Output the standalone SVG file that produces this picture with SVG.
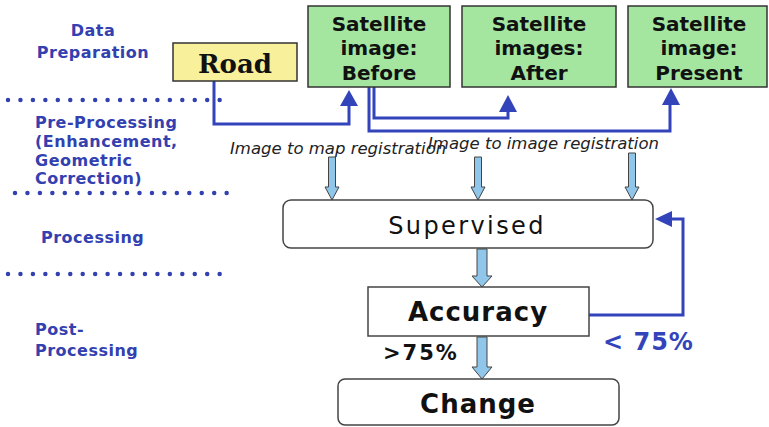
<svg xmlns="http://www.w3.org/2000/svg" width="769" height="427" viewBox="0 0 769 427">
<style>
.lbl{font-family:"DejaVu Sans","Liberation Sans",sans-serif;font-weight:bold;font-size:16px;letter-spacing:0.5px;fill:#3340b0}
.sat{font-family:"DejaVu Sans","Liberation Sans",sans-serif;font-weight:bold;font-size:20px;fill:#111;text-anchor:middle}
.dots{stroke:#3340b0;stroke-width:4.5;stroke-linecap:round;stroke-dasharray:0 12.45;fill:none}
.blue{stroke:#3344bb;stroke-width:3;fill:none}
.bhead{fill:#3344bb}
.lb{fill:#8fc6ea;stroke:#444;stroke-width:1}
.ital{font-family:"DejaVu Sans","Liberation Sans",sans-serif;font-style:italic;font-size:16.5px;fill:#222}
.box{fill:#fff;stroke:#444;stroke-width:1.5}
.big{font-family:"DejaVu Sans","Liberation Sans",sans-serif;font-weight:bold;font-size:26px;fill:#111;text-anchor:middle}
</style>
<g id="stage-labels">
<text class="lbl" x="93" y="36" text-anchor="middle">Data</text>
<text class="lbl" x="93" y="58" text-anchor="middle">Preparation</text>
<text class="lbl" x="35" y="128">Pre-Processing</text>
<text class="lbl" x="35" y="147">(Enhancement,</text>
<text class="lbl" x="35" y="166">Geometric</text>
<text class="lbl" x="35" y="184">Correction)</text>
<text class="lbl" x="41" y="243">Processing</text>
<text class="lbl" x="35" y="335">Post-</text>
<text class="lbl" x="35" y="356">Processing</text>
<line class="dots" x1="8" y1="100" x2="220" y2="100"/>
<line class="dots" x1="15" y1="193" x2="228" y2="193"/>
<line class="dots" x1="8" y1="274" x2="220" y2="274"/>
</g>
<g id="connectors">
<polyline class="blue" points="214,81 214,124 349,124 349,104"/>
<polygon class="bhead" points="349,90 358,106 340,106"/>
<polyline class="blue" points="374,87 374,118 508,118 508,110"/>
<polygon class="bhead" points="508,95 517,112 499,112"/>
<polyline class="blue" points="369,87 369,131 670,131 670,103"/>
<polygon class="bhead" points="671,88 680,105 662,105"/>
<polyline class="blue" points="589,315 683,315 683,219 670,219"/>
<polygon class="bhead" points="655,219 672,211 672,227"/>
<polygon class="lb" points="328.5,157 335.5,157 335.5,187 339,187 332,200 325,187 328.5,187"/>
<polygon class="lb" points="474.5,157 481.5,157 481.5,187 485,187 478,200 471,187 474.5,187"/>
<polygon class="lb" points="628.5,153 635.5,153 635.5,187 639,187 632,200 625,187 628.5,187"/>
<polygon class="lb" points="477,249 487,249 487,276 492,276 482,287 472,276 477,276"/>
<polygon class="lb" points="477,337 487,337 487,367 492,367 482,379 472,367 477,367"/>
<text class="ital" x="230" y="154">Image to map registration</text>
<text class="ital" x="428" y="149">Image to image registration</text>
<text x="383" y="360" style="font-family:'DejaVu Sans','Liberation Sans',sans-serif;font-weight:bold;font-size:21px;fill:#111;letter-spacing:2px">&gt;75%</text>
<text x="603" y="350" style="font-family:'DejaVu Sans','Liberation Sans',sans-serif;font-weight:bold;font-size:24px;fill:#3344bb;letter-spacing:1px">&lt; 75%</text>
</g>
<g id="road">
<rect x="173" y="43" width="124" height="38" fill="#f8f09a" stroke="#333" stroke-width="1.5"/>
<text x="235" y="73" text-anchor="middle" style="font-family:'DejaVu Serif','Liberation Serif',serif;font-weight:bold;font-size:26px;fill:#111">Road</text>
</g>
<g id="sat-before">
<rect x="308" y="6" width="142" height="81" fill="#a4e6a0" stroke="#333" stroke-width="1.5"/>
<text class="sat" x="379" y="31">Satellite</text>
<text class="sat" x="379" y="55">image:</text>
<text class="sat" x="379" y="80">Before</text>
</g>
<g id="sat-after">
<rect x="462" y="6" width="154" height="81" fill="#a4e6a0" stroke="#333" stroke-width="1.5"/>
<text class="sat" x="539" y="31">Satellite</text>
<text class="sat" x="539" y="55">images:</text>
<text class="sat" x="539" y="80">After</text>
</g>
<g id="sat-present">
<rect x="628" y="6" width="139" height="81" fill="#a4e6a0" stroke="#333" stroke-width="1.5"/>
<text class="sat" x="699" y="31">Satellite</text>
<text class="sat" x="699" y="55">image:</text>
<text class="sat" x="699" y="80">Present</text>
</g>
<g id="supervised">
<rect class="box" x="283" y="200" width="370" height="48" rx="8"/>
<text x="467" y="234" text-anchor="middle" style="font-family:'DejaVu Sans','Liberation Sans',sans-serif;font-size:24px;fill:#111;letter-spacing:2.4px">Supervised</text>
</g>
<g id="accuracy">
<rect class="box" x="368" y="287" width="221" height="49"/>
<text class="big" x="478" y="321" style="letter-spacing:1px">Accuracy</text>
</g>
<g id="change">
<rect class="box" x="338" y="379" width="281" height="46" rx="7"/>
<text class="big" x="478" y="413" style="letter-spacing:1px">Change</text>
</g>
</svg>
